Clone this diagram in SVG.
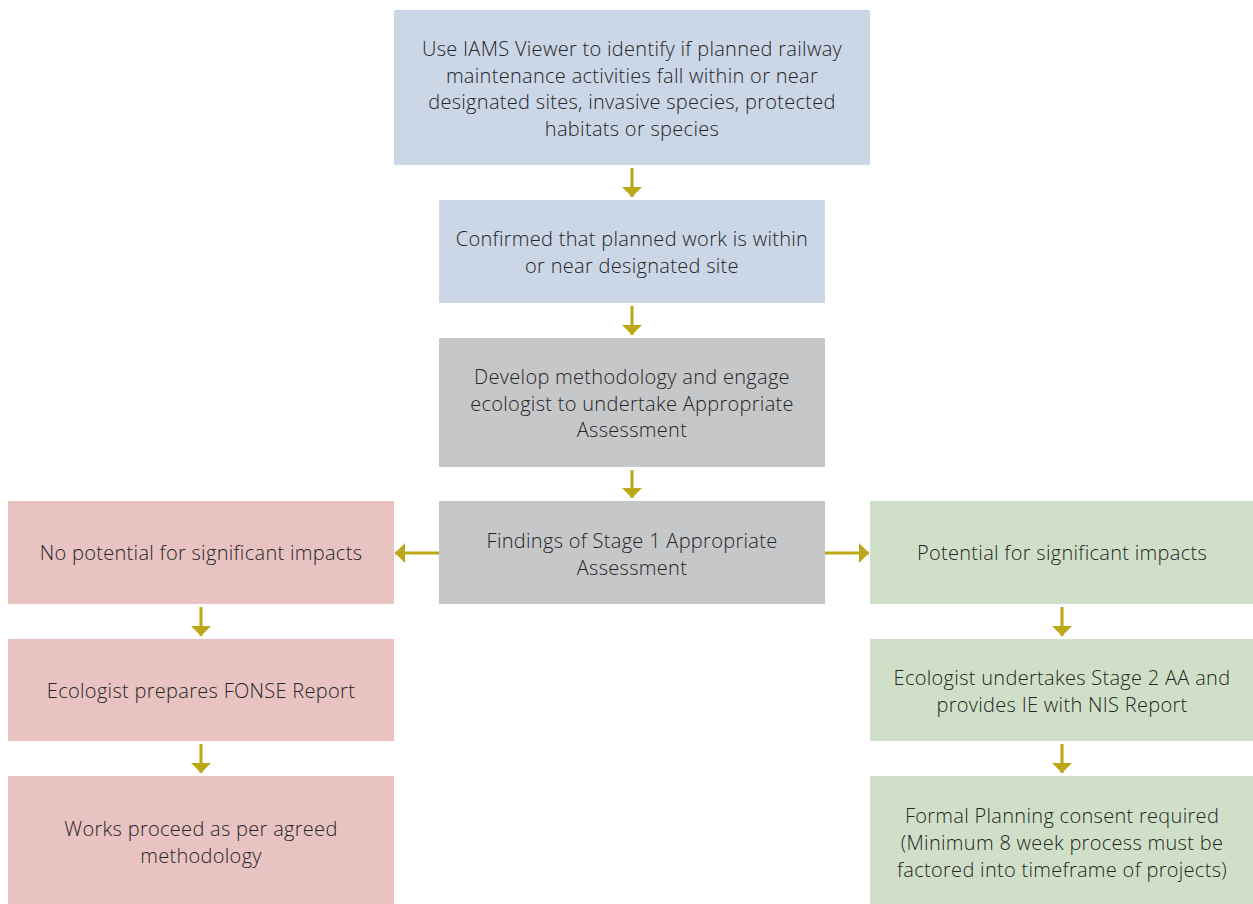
<svg xmlns="http://www.w3.org/2000/svg" width="1253" height="904" viewBox="0 0 1253 904">
<style>
.blue{fill:#cbd6e7}
.grey{fill:#c6c7c9}
.pink{fill:#e8c3c2}
.green{fill:#d0e0c8}
text{font-family:"Open Sans","Noto Sans","Liberation Sans",sans-serif;font-size:20px;font-weight:300;letter-spacing:0.3px;fill:#262626;text-anchor:middle}
.conn line{stroke:#bca716;stroke-width:3}
</style>
<defs>
<marker id="ah" viewBox="0 0 10 20" refX="10" refY="10" markerWidth="10" markerHeight="20" markerUnits="userSpaceOnUse" orient="auto">
<path d="M0,0 L10,10 L0,20 Z" fill="#bca716"/>
</marker>
</defs>
<rect width="1253" height="904" fill="#ffffff"/>
<g id="n1"><rect class="blue" x="394" y="10" width="476" height="155"/>
<text x="632" y="56">Use IAMS Viewer to identify if planned railway</text>
<text x="632" y="82.5">maintenance activities fall within or near</text>
<text x="632" y="109">designated sites, invasive species, protected</text>
<text x="632" y="136">habitats or species</text></g>
<g id="n2"><rect class="blue" x="439" y="200" width="386" height="103"/>
<text x="632" y="246">Confirmed that planned work is within</text>
<text x="632" y="273">or near designated site</text></g>
<g id="n3"><rect class="grey" x="439" y="338" width="386" height="129"/>
<text x="632" y="384">Develop methodology and engage</text>
<text x="632" y="410.5">ecologist to undertake Appropriate</text>
<text x="632" y="437">Assessment</text></g>
<g id="n4"><rect class="grey" x="439" y="501" width="386" height="103"/>
<text x="632" y="548">Findings of Stage 1 Appropriate</text>
<text x="632" y="575">Assessment</text></g>
<g id="l1"><rect class="pink" x="8" y="501" width="386" height="103"/>
<text x="201" y="560">No potential for significant impacts</text></g>
<g id="l2"><rect class="pink" x="8" y="639" width="386" height="102"/>
<text x="201" y="698">Ecologist prepares FONSE Report</text></g>
<g id="l3"><rect class="pink" x="8" y="776" width="386" height="128"/>
<text x="201" y="836">Works proceed as per agreed</text>
<text x="201" y="863">methodology</text></g>
<g id="r1"><rect class="green" x="870" y="501" width="383" height="103"/>
<text x="1062" y="560">Potential for significant impacts</text></g>
<g id="r2"><rect class="green" x="870" y="639" width="383" height="102"/>
<text x="1062" y="685">Ecologist undertakes Stage 2 AA and</text>
<text x="1062" y="712">provides IE with NIS Report</text></g>
<g id="r3"><rect class="green" x="870" y="776" width="383" height="128"/>
<text x="1062" y="823">Formal Planning consent required</text>
<text x="1062" y="850">(Minimum 8 week process must be</text>
<text x="1062" y="877">factored into timeframe of projects)</text></g>
<g class="conn" id="connectors">
<line x1="632" y1="168" x2="632" y2="197" marker-end="url(#ah)"/>
<line x1="632" y1="306" x2="632" y2="335" marker-end="url(#ah)"/>
<line x1="632" y1="470" x2="632" y2="498" marker-end="url(#ah)"/>
<line x1="439" y1="553" x2="395" y2="553" marker-end="url(#ah)"/>
<line x1="825" y1="553" x2="869" y2="553" marker-end="url(#ah)"/>
<line x1="201" y1="607" x2="201" y2="636" marker-end="url(#ah)"/>
<line x1="201" y1="744" x2="201" y2="773" marker-end="url(#ah)"/>
<line x1="1062" y1="607" x2="1062" y2="636" marker-end="url(#ah)"/>
<line x1="1062" y1="744" x2="1062" y2="773" marker-end="url(#ah)"/>
</g>
</svg>
